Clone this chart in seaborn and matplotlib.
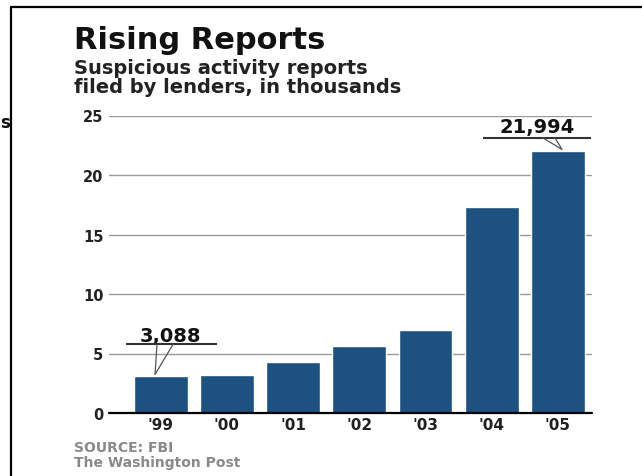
import matplotlib
matplotlib.use("Agg")
import matplotlib.pyplot as plt
import seaborn as sns
import pandas as pd
from matplotlib.lines import Line2D

# data, in thousands of reports
years = ["'99", "'00", "'01", "'02", "'03", "'04", "'05"]
reports = [3.088, 3.22, 4.26, 5.64, 7.0, 17.29, 21.994]
yticks = [0, 5, 10, 15, 20, 25]
callout_bars = [0, 6]
callout_labels = ["3,088", "21,994"]

BAR = "#1c5180"
GREY = "#8a8a8a"

sns.set_theme(style="white")
plt.rcParams['font.family'] = ['DejaVu Sans']

fig = plt.figure(figsize=(6.42, 4.77), dpi=100)
ax = fig.add_axes([109 / 642, 1 - 414 / 477, 483 / 642, 297.5 / 477])

df = pd.DataFrame({"year": years, "reports": reports})
sns.barplot(data=df, x="year", y="reports", color=BAR, saturation=1,
            width=0.81, ax=ax, zorder=3)

ax.set_xlim(-0.781, 6.515)
ax.set_ylim(0, 25)
ax.set_yticks(yticks)
ax.grid(axis='y', color='#9a9a9a', lw=1)
ax.set_axisbelow(True)
ax.axhline(0, color='black', lw=1.6, zorder=4, clip_on=False)
for s in ax.spines.values():
    s.set_visible(False)
ax.set_xlabel('')
ax.set_ylabel('')
ax.tick_params(axis='y', length=0, pad=4, labelsize=10.5, labelcolor='#222222')
ax.tick_params(axis='x', length=0, pad=3, labelsize=11, labelcolor='#222222')
for lab in ax.get_xticklabels() + ax.get_yticklabels():
    lab.set_fontweight('bold')

# callouts: (text dx, text dy, line left, line right, line dy, wedge base l/r, tip dx)
layout = [
    (0.14, 2.95, -0.524, 0.846, 2.68, -0.056, 0.186, -0.086),
    (-0.31, 1.62, -1.131, 0.50, 1.12, -0.225, -0.044, 0.062),
]
for i, lab, (tx, ty, l0, l1, ly, b0, b1, tip) in zip(callout_bars, callout_labels, layout):
    v = reports[i]
    ax.text(i + tx, v + ty, lab, ha='center', va='baseline', fontsize=14,
            fontweight='bold', color='#111111', zorder=6)
    ax.plot([i + l0, i + l1], [v + ly, v + ly], color='#333333', lw=1.5,
            zorder=6, solid_capstyle='butt')
    ax.plot([i + b0, i + tip, i + b1], [v + ly, v + 0.15, v + ly],
            color='#555555', lw=0.9, zorder=6)

# titles and notes
fig.text(74 / 642, 1 - 49 / 477, "Rising Reports", fontsize=22,
         fontweight='bold', va='baseline', color='#111111')
fig.text(74 / 642, 1 - 74 / 477, "Suspicious activity reports", fontsize=14,
         fontweight='bold', va='baseline', color='#222222')
fig.text(74 / 642, 1 - 93 / 477, "filed by lenders, in thousands", fontsize=14,
         fontweight='bold', va='baseline', color='#222222')
fig.text(74 / 642, 1 - 452.5 / 477, "SOURCE: FBI", fontsize=10,
         fontweight='bold', va='baseline', color=GREY)
fig.text(74 / 642, 1 - 467.5 / 477, "The Washington Post", fontsize=10,
         fontweight='bold', va='baseline', color=GREY)
fig.text(0.0, 1 - 123 / 477, "s", fontsize=12, fontweight='bold',
         va='center', ha='left', color='#111111')

# frame lines
fig.add_artist(Line2D([11 / 642, 1], [1 - 8 / 477, 1 - 8 / 477], color='black', lw=1.6))
fig.add_artist(Line2D([11 / 642, 11 / 642], [0, 1 - 8 / 477], color='black', lw=1.6))

fig.savefig("out.png", dpi=100)
